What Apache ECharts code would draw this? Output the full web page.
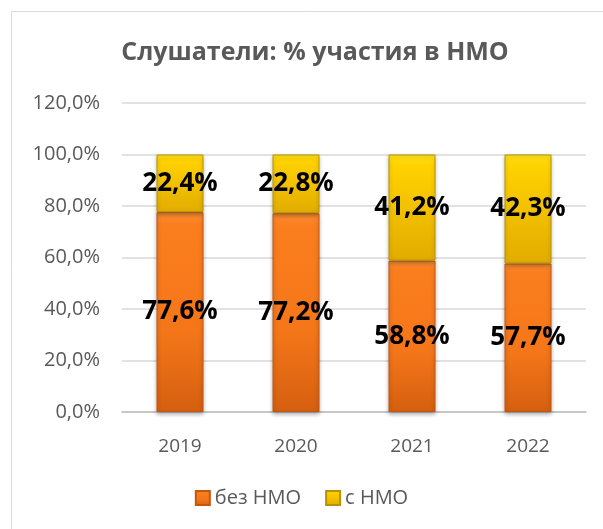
<!DOCTYPE html>
<html>
<head>
<meta charset="utf-8">
<script src="https://cdn.jsdelivr.net/npm/echarts@6/dist/echarts.min.js"></script>
<style>
  html, body { margin: 0; padding: 0; background: #fff; }
  #bar-chart-1 { width: 603px; height: 529px; }
</style>
</head>
<body>
<div id="bar-chart-1"></div>
<script>
var years = ['2019', '2020', '2021', '2022'];
var withoutNmo = [77.6, 77.2, 58.8, 57.7];
var withNmo = [22.4, 22.8, 41.2, 42.3];
var yTicks = [0, 20, 40, 60, 80, 100, 120];

initChart1();
function initChart1(){
    var dom = document.getElementById('bar-chart-1');
    var myChart = echarts.init(dom, null, {
      renderer: 'canvas',
      useDirtyRect: false
    });

    var font = 'Open Sans, Liberation Sans, sans-serif';
    var pct = function (v) {
      return Number(v).toFixed(1).replace('.', ',') + '%';
    };

    var orange = new echarts.graphic.LinearGradient(0, 0, 0, 1, [
      { offset: 0, color: '#FF9236' },
      { offset: 0.06, color: '#FB7E1E' },
      { offset: 0.6, color: '#F47619' },
      { offset: 1, color: '#D55F10' }
    ]);
    var yellow = new echarts.graphic.LinearGradient(0, 0, 0, 1, [
      { offset: 0, color: '#FFE41A' },
      { offset: 0.1, color: '#FFD200' },
      { offset: 1, color: '#E2AC00' }
    ]);

    var option = {
        animation: false,
        graphic: [{
          type: 'rect',
          shape: { x: 11.5, y: 11.5, width: 620, height: 560 },
          style: { fill: 'none', stroke: '#D9D9D9', lineWidth: 1 },
          silent: true
        }],
        title: {
          text: 'Слушатели: % участия в НМО',
          left: 310,
          textAlign: 'center',
          top: 35,
          textStyle: { fontFamily: font, fontSize: 25, fontWeight: 'bold', color: '#595959' }
        },
        legend: {
          bottom: 16,
          left: 'center',
          itemWidth: 14,
          itemHeight: 14,
          itemGap: 24,
          icon: 'rect',
          textStyle: { fontFamily: font, fontSize: 20, color: '#595959' },
          data: ['без НМО', 'с НМО']
        },
        grid: { left: 122, right: 17, top: 103, bottom: 117 },
        xAxis: {
          type: 'category',
          data: years,
          axisTick: { show: false },
          axisLine: { lineStyle: { color: '#BFBFBF', width: 1.5 } },
          axisLabel: { fontFamily: font, fontSize: 19, color: '#595959', margin: 25 }
        },
        yAxis: {
          type: 'value',
          min: yTicks[0],
          max: yTicks[yTicks.length - 1],
          interval: yTicks[1] - yTicks[0],
          axisLine: { show: false },
          axisTick: { show: false },
          splitLine: { lineStyle: { color: '#D9D9D9', width: 1.5 } },
          axisLabel: { fontFamily: font, fontSize: 20, color: '#595959', margin: 22, formatter: pct }
        },
        series: [
          {
            name: 'без НМО',
            type: 'bar',
            stack: 'all',
            barWidth: 47,
            data: withoutNmo,
            itemStyle: {
              color: orange,
              borderColor: '#C4570E',
              borderWidth: 1,
              shadowBlur: 4,
              shadowOffsetY: 2,
              shadowColor: 'rgba(0,0,0,0.3)'
            },
            label: {
              show: true,
              position: 'inside',
              formatter: function (p) { return pct(p.value); },
              fontFamily: font,
              fontSize: 26,
              fontWeight: 'bold',
              color: '#000'
            }
          },
          {
            name: 'с НМО',
            type: 'bar',
            stack: 'all',
            barWidth: 47,
            data: withNmo,
            itemStyle: {
              color: yellow,
              borderColor: '#B89200',
              borderWidth: 1,
              shadowBlur: 4,
              shadowOffsetY: 2,
              shadowColor: 'rgba(0,0,0,0.25)'
            },
            label: {
              show: true,
              position: 'inside',
              formatter: function (p) { return pct(p.value); },
              fontFamily: font,
              fontSize: 26,
              fontWeight: 'bold',
              color: '#000'
            }
          }
        ]
    };

    if (option && typeof option === 'object') {
      myChart.setOption(option);
    }

    window.addEventListener('resize', myChart.resize);
}
</script>
</body>
</html>
